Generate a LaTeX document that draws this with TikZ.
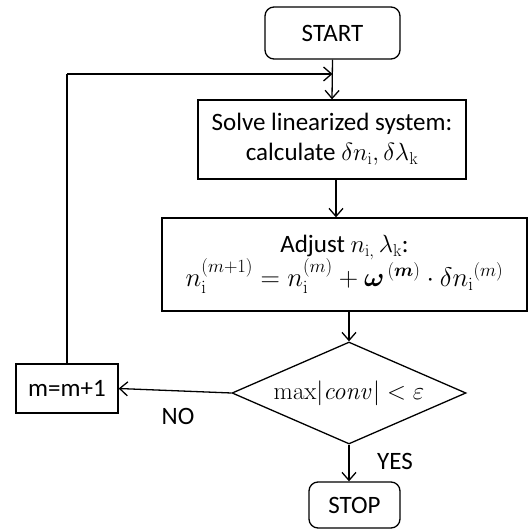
\documentclass[tikz,border=0pt]{standalone}
\usepackage{graphicx}
\usepackage{amsmath,bm}
\usepackage[no-math]{fontspec}
\setmainfont{Carlito}
\usetikzlibrary{shapes.geometric,arrows.meta,calc}
\begin{document}
\begin{tikzpicture}[x=1pt,y=1pt,
  every node/.style={font=\fontsize{25}{30}\selectfont, inner sep=0pt, line width=1.3pt},
  boxnode/.style={draw, rectangle, align=center},
  termnode/.style={draw, rectangle, rounded corners=9pt},
  conn/.style={line width=1.3pt, -{Straight Barb[length=8pt,width=14pt,line width=1.3pt]}},
  plainline/.style={line width=1.3pt}]
\useasboundingbox (0,0) rectangle (529,531);
\node[termnode, minimum width=135pt, minimum height=52pt] (start) at (332.5,498) {START};
\node[boxnode, minimum width=268pt, minimum height=79pt] (solve) at (332,391.5)
  {Solve linearized system:\\calculate $\delta n_{\mathrm{i}}, \delta\lambda_{\mathrm{k}}$};
\node[boxnode, minimum width=365pt, minimum height=93pt] (adjust) at (344.5,266.5)
  {Adjust $n_{\mathrm{i},}\, \lambda_{\mathrm{k}}$:\\[-2pt]
   \scalebox{1.08}{$n_{\mathrm{i}}^{(m+1)} = n_{\mathrm{i}}^{(m)} + \bm{\omega}^{\,(\bm{m})}\cdot \delta n_{\mathrm{i}}{}^{(m)}$}};
\node[draw, minimum width=234pt, minimum height=102pt, shape=diamond, aspect=2.29, inner sep=0pt] (dec) at (349,138) {};
\node (dectext) at (dec.center) {$\mathrm{max}|\mathit{conv}| < \varepsilon$};
\node[boxnode, minimum width=102pt, minimum height=49pt] (mm) at (67,142.5) {m=m+1};
\node[termnode, minimum width=91pt, minimum height=46pt] (stop) at (354.5,26) {STOP};
\node (no) at (178,115) {NO};
\node (yes) at (395,70) {YES};
\coordinate (loop) at (332.5,457);
\coordinate (corner) at (67,457);
\draw[conn] (start.south) -- (solve.north);
\draw[conn] ([xshift=4pt]solve.south) -- ([xshift=4pt]solve.south |- adjust.north);
\draw[conn] (adjust.south -| dec.north) -- (dec.north);
\draw[conn] (dec.west) -- (mm.east);
\draw[conn] (dec.south) -- (dec.south |- stop.north);
\draw[plainline] (mm.north) -- (corner);
\draw[conn] (corner) -- (loop);
\end{tikzpicture}
\end{document}
